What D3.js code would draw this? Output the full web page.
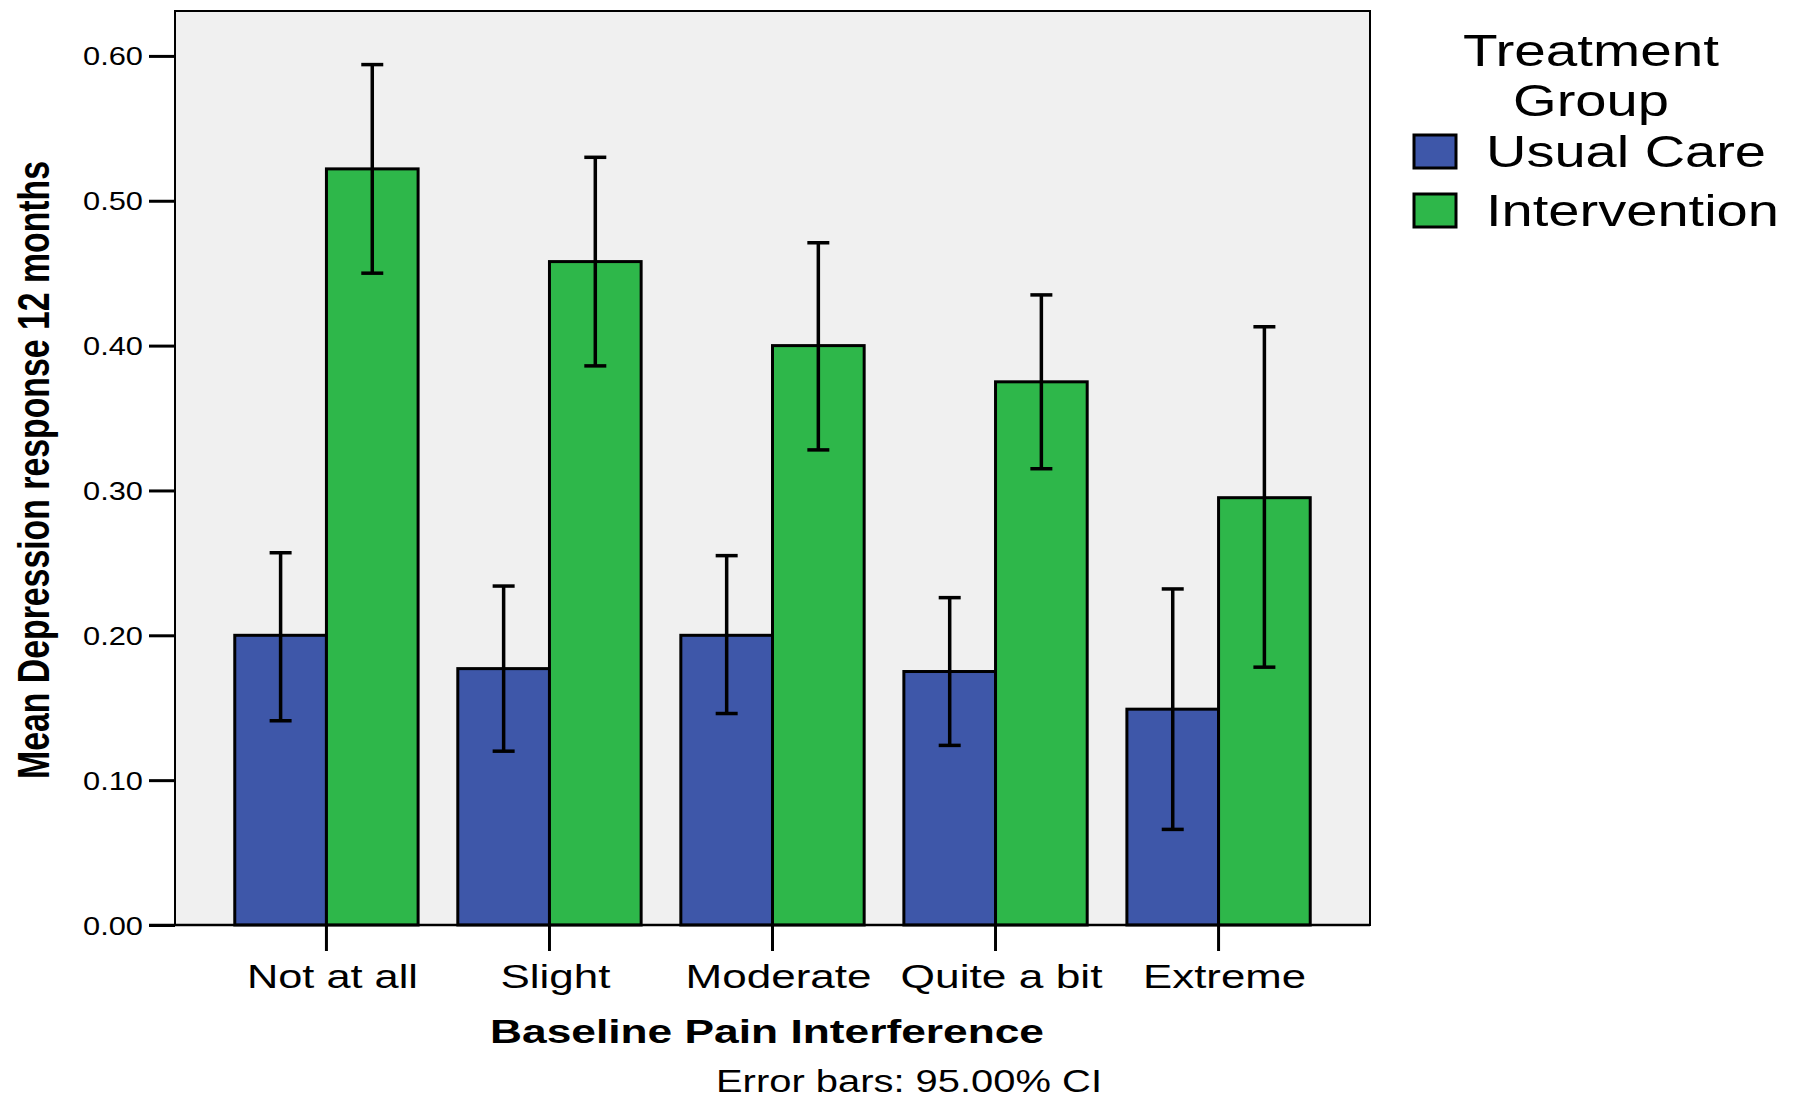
<!DOCTYPE html>
<html>
<head>
<meta charset="utf-8">
<script src="https://cdn.jsdelivr.net/npm/d3@7"></script>
<style>
  body { margin: 0; background: #fff; }
  text { font-family: Arial, "Liberation Sans", sans-serif; fill: #000; }
</style>
</head>
<body>
<div class="chart"></div>
<script>
// values
const categories = ["Not at all", "Slight", "Moderate", "Quite a bit", "Extreme"];
const groups = ["Usual Care", "Intervention"];
const usualCare = [0.200, 0.177, 0.200, 0.175, 0.149];
const usualLow  = [0.141, 0.120, 0.146, 0.124, 0.066];
const usualHigh = [0.257, 0.234, 0.255, 0.226, 0.232];
const intervention = [0.522, 0.458, 0.400, 0.375, 0.295];
const interLow  = [0.450, 0.386, 0.328, 0.315, 0.178];
const interHigh = [0.594, 0.530, 0.471, 0.435, 0.413];
const yTicks = [0, 0.1, 0.2, 0.3, 0.4, 0.5, 0.6];

const colors = {"Usual Care": "#3e57a9", "Intervention": "#2eb74a"};

const rows = [];
categories.forEach((c, i) => {
  rows.push({cat: c, group: "Usual Care", v: usualCare[i], lo: usualLow[i], hi: usualHigh[i]});
  rows.push({cat: c, group: "Intervention", v: intervention[i], lo: interLow[i], hi: interHigh[i]});
});

const W = 1797, H = 1097;
const plot = {left: 175, right: 1370, top: 11, bottom: 925};

const svg = d3.select(".chart").append("svg")
    .attr("width", W)
    .attr("height", H);

const x0 = d3.scaleBand()
    .domain(categories)
    .range([plot.left, plot.right])
    .paddingInner(0.178)
    .paddingOuter(0.268);

const x1 = d3.scaleBand()
    .domain(groups)
    .range([0, x0.bandwidth()]);

const y = d3.scaleLinear()
    .domain([0, 0.631])
    .range([plot.bottom, plot.top]);

// plot background
svg.append("rect")
    .attr("x", plot.left)
    .attr("y", plot.top)
    .attr("width", plot.right - plot.left)
    .attr("height", plot.bottom - plot.top)
    .attr("fill", "#f0f0f0")
    .attr("stroke", "#000")
    .attr("stroke-width", 2);

// bars
svg.append("g").selectAll("rect")
  .data(rows)
  .join("rect")
    .attr("x", d => x0(d.cat) + x1(d.group))
    .attr("y", d => y(d.v))
    .attr("width", x1.bandwidth())
    .attr("height", d => y(0) - y(d.v))
    .attr("fill", d => colors[d.group])
    .attr("stroke", "#000")
    .attr("stroke-width", 3);

// error bars
const eb = svg.append("g")
    .attr("stroke", "#000")
    .attr("stroke-width", 3.5);
const cx = d => x0(d.cat) + x1(d.group) + x1.bandwidth() / 2;
eb.selectAll(".stem").data(rows).join("line")
    .attr("x1", cx).attr("x2", cx)
    .attr("y1", d => y(d.lo)).attr("y2", d => y(d.hi));
eb.selectAll(".capHi").data(rows).join("line")
    .attr("x1", d => cx(d) - 11).attr("x2", d => cx(d) + 11)
    .attr("y1", d => y(d.hi)).attr("y2", d => y(d.hi));
eb.selectAll(".capLo").data(rows).join("line")
    .attr("x1", d => cx(d) - 11).attr("x2", d => cx(d) + 11)
    .attr("y1", d => y(d.lo)).attr("y2", d => y(d.lo));

// y axis
const yAxis = svg.append("g")
    .attr("transform", `translate(${plot.left},0)`)
    .call(d3.axisLeft(y).tickValues(yTicks).tickFormat(d3.format(".2f")).tickSize(26).tickPadding(6));
yAxis.select(".domain").remove();
yAxis.selectAll(".tick line").attr("stroke", "#000").attr("stroke-width", 3);
yAxis.selectAll(".tick text")
    .attr("font-size", 25)
    .attr("x", -32)
    .attr("dy", "0.36em")
    .attr("textLength", 60)
    .attr("lengthAdjust", "spacingAndGlyphs");

// x axis
const xAxis = svg.append("g")
    .attr("transform", `translate(0,${plot.bottom})`)
    .call(d3.axisBottom(x0).tickSize(26).tickSizeOuter(0));
xAxis.select(".domain").attr("stroke", "#000").attr("stroke-width", 2.5)
    .attr("d", `M${plot.left - 26},0H${plot.right}`);
xAxis.selectAll(".tick line").attr("stroke", "#000").attr("stroke-width", 3);
const xLabelWidth = {"Not at all": 171, "Slight": 110, "Moderate": 186, "Quite a bit": 202, "Extreme": 163};
xAxis.selectAll(".tick text")
    .attr("font-size", 33)
    .attr("y", 63)
    .attr("dy", 0)
    .attr("dx", 6)
    .attr("textLength", d => xLabelWidth[d])
    .attr("lengthAdjust", "spacingAndGlyphs");

// axis titles
svg.append("text")
    .attr("x", 767)
    .attr("y", 1043)
    .attr("text-anchor", "middle")
    .attr("font-size", 34)
    .attr("font-weight", "bold")
    .attr("textLength", 554)
    .attr("lengthAdjust", "spacingAndGlyphs")
    .text("Baseline Pain Interference");

svg.append("text")
    .attr("transform", "translate(49,470) rotate(-90)")
    .attr("text-anchor", "middle")
    .attr("font-size", 44)
    .attr("font-weight", "bold")
    .attr("textLength", 618)
    .attr("lengthAdjust", "spacingAndGlyphs")
    .text("Mean Depression response 12 months");

svg.append("text")
    .attr("x", 909)
    .attr("y", 1092)
    .attr("text-anchor", "middle")
    .attr("font-size", 31)
    .attr("textLength", 386)
    .attr("lengthAdjust", "spacingAndGlyphs")
    .text("Error bars: 95.00% CI");

// legend
const legend = svg.append("g");
legend.append("text")
    .attr("x", 1591).attr("y", 66)
    .attr("text-anchor", "middle")
    .attr("font-size", 44)
    .attr("textLength", 256)
    .attr("lengthAdjust", "spacingAndGlyphs")
    .text("Treatment");
legend.append("text")
    .attr("x", 1591).attr("y", 116)
    .attr("text-anchor", "middle")
    .attr("font-size", 44)
    .attr("textLength", 156)
    .attr("lengthAdjust", "spacingAndGlyphs")
    .text("Group");

const legendWidth = {"Usual Care": 280, "Intervention": 293};
const item = legend.selectAll(".item")
  .data(groups)
  .join("g")
    .attr("transform", (d, i) => `translate(1414,${135 + i * 59})`);
item.append("rect")
    .attr("width", 42)
    .attr("height", 33)
    .attr("fill", d => colors[d])
    .attr("stroke", "#000")
    .attr("stroke-width", 3);
item.append("text")
    .attr("x", 72)
    .attr("y", 32)
    .attr("font-size", 44)
    .attr("textLength", d => legendWidth[d])
    .attr("lengthAdjust", "spacingAndGlyphs")
    .text(d => d);
</script>
</body>
</html>
